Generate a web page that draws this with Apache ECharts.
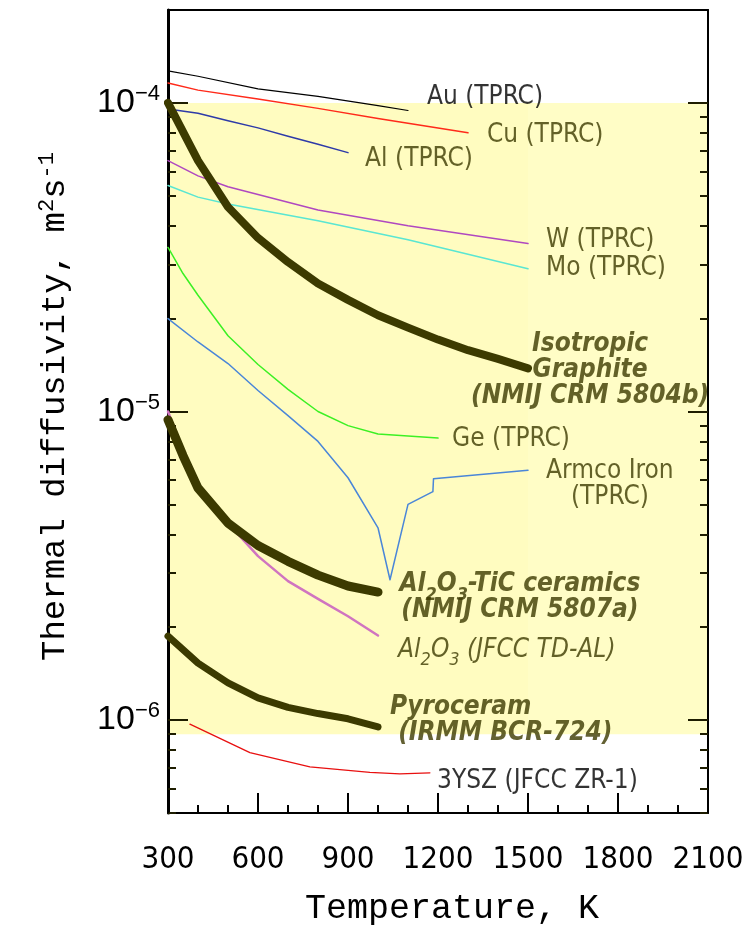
<!DOCTYPE html>
<html>
<head>
<meta charset="utf-8">
<script src="https://cdn.jsdelivr.net/npm/echarts@6/dist/echarts.min.js"></script>
<style>
html, body { margin: 0; padding: 0; background: #fff; }
#chart { width: 756px; height: 931px; }
</style>
</head>
<body>
<div id="chart"></div>
<script>
// [temperature K, thermal diffusivity m2/s]
const au = [[300, 1.27e-4], [400, 1.22e-4], [600, 1.11e-4], [800, 1.05e-4], [1000, 9.8e-5], [1100, 9.45e-5]];
const cu = [[300, 1.16e-4], [400, 1.10e-4], [600, 1.03e-4], [800, 9.6e-5], [1000, 8.9e-5], [1300, 8.0e-5]];
const al = [[300, 9.55e-5], [400, 9.25e-5], [500, 8.75e-5], [600, 8.3e-5], [700, 7.8e-5], [800, 7.35e-5], [900, 6.9e-5]];
const w = [[300, 6.5e-5], [400, 5.8e-5], [500, 5.35e-5], [600, 5.05e-5], [800, 4.5e-5], [1100, 4.0e-5], [1500, 3.5e-5]];
const mo = [[300, 5.4e-5], [400, 4.95e-5], [500, 4.7e-5], [800, 4.15e-5], [1100, 3.6e-5], [1500, 2.9e-5]];
const graphite = [[300, 1.0e-4], [400, 6.5e-5], [500, 4.6e-5], [600, 3.65e-5], [700, 3.05e-5], [800, 2.6e-5], [900, 2.3e-5],
  [1000, 2.05e-5], [1100, 1.87e-5], [1200, 1.71e-5], [1300, 1.58e-5], [1400, 1.48e-5], [1500, 1.38e-5]];
const ge = [[300, 3.4e-5], [350, 2.8e-5], [400, 2.38e-5], [500, 1.76e-5], [600, 1.42e-5], [700, 1.18e-5], [800, 1.0e-5],
  [900, 9.0e-6], [1000, 8.45e-6], [1200, 8.2e-6]];
const armco = [[300, 2.0e-5], [400, 1.68e-5], [500, 1.43e-5], [600, 1.17e-5], [700, 9.7e-6], [800, 8.0e-6], [900, 6.1e-6],
  [1000, 4.2e-6], [1040, 2.85e-6], [1100, 5.0e-6], [1183, 5.5e-6], [1185, 6.05e-6], [1500, 6.45e-6]];
const ticCeramic = [[300, 9.4e-6], [350, 7.2e-6], [400, 5.65e-6], [500, 4.35e-6], [600, 3.68e-6], [700, 3.27e-6],
  [800, 2.95e-6], [900, 2.72e-6], [1000, 2.6e-6]];
const alumina = [[300, 1.0e-5], [350, 7.4e-6], [400, 5.75e-6], [500, 4.35e-6], [600, 3.4e-6], [700, 2.82e-6], [800, 2.47e-6],
  [900, 2.17e-6], [1000, 1.88e-6]];
const pyroceram = [[300, 1.87e-6], [400, 1.53e-6], [500, 1.32e-6], [600, 1.18e-6], [700, 1.1e-6], [800, 1.05e-6],
  [900, 1.01e-6], [1000, 9.5e-7]];
const ysz = [[373, 9.7e-7], [573, 7.85e-7], [773, 7.05e-7], [973, 6.77e-7], [1073, 6.7e-7], [1173, 6.75e-7]];

// axis ticks
const yMajor = [1e-6, 1e-5, 1e-4];
const yMinor = [5e-7, 6e-7, 7e-7, 8e-7, 9e-7,
  2e-6, 3e-6, 4e-6, 5e-6, 6e-6, 7e-6, 8e-6, 9e-6,
  2e-5, 3e-5, 4e-5, 5e-5, 6e-5, 7e-5, 8e-5, 9e-5];

// labels next to the curves
const notes = [
  { text: 'Au (TPRC)', at: [1163, 1.045e-4], color: '#000' },
  { text: 'Cu (TPRC)', at: [1363, 7.88e-5] },
  { text: 'Al (TPRC)', at: [957, 6.55e-5] },
  { text: 'W (TPRC)', at: [1560, 3.59e-5] },
  { text: 'Mo (TPRC)', at: [1560, 2.92e-5] },
  { text: 'Isotropic\nGraphite\n(NMIJ CRM 5804b)', at: [1707, 1.36e-5], align: 'center', bold: true },
  { text: 'Ge (TPRC)', at: [1247, 8.13e-6] },
  { text: 'Armco Iron\n(TPRC)', at: [1773, 5.81e-6], align: 'center' },
  { text: 'Al{sub|2}O{sub|3}-TiC ceramics\n(NMIJ CRM 5807a)', at: [1473, 2.5e-6], align: 'center', bold: true },
  { text: 'Al{sub|2}O{sub|3} (JFCC TD-AL)', at: [1067, 1.69e-6], italic: true },
  { text: 'Pyroceram\n (IRMM BCR-724)', at: [1040, 1.0e-6], bold: true },
  { text: '3YSZ (JFCC ZR-1)', at: [1197, 6.35e-7], color: '#000' },
];

const olive = '#3c3a00';
const narrow = '"Liberation Sans Narrow", "DejaVu Sans Condensed", "Arial Narrow", sans-serif';
const mono = '"Liberation Mono", "DejaVu Sans Mono", monospace';

function curve(name, data, color, width) {
  return {
    name: name,
    type: 'line',
    data: data,
    symbol: 'none',
    silent: true,
    z: 3,
    lineStyle: { color: color, width: width, cap: 'round', join: 'round' },
  };
}

const yBase = {
  type: 'log',
  logBase: 10,
  min: 5e-7,
  max: 2e-4,
  z: 2,
  splitLine: { show: false },
};

const chart = echarts.init(document.getElementById('chart'));
chart.setOption({
  animation: false,
  backgroundColor: '#fff',
  grid: { left: 168, right: 48, top: 10, bottom: 116 },
  xAxis: [
    {
      type: 'value',
      position: 'bottom',
      min: 300,
      max: 2100,
      interval: 300,
      z: 2,
      axisLine: { show: true, lineStyle: { color: '#000', width: 2 } },
      axisTick: { show: true, inside: true, length: 20, lineStyle: { color: '#000', width: 2 } },
      minorTick: { show: true, splitNumber: 3, length: 8, lineStyle: { color: '#000', width: 2 } },
      splitLine: { show: false },
      axisLabel: {
        color: '#000',
        fontFamily: narrow,
        fontSize: 31,
        margin: 31,
        formatter: function (v) { return String(v); },
      },
      name: 'Temperature, K',
      nameLocation: 'middle',
      nameGap: 78,
      nameTextStyle: { color: '#000', fontFamily: mono, fontSize: 35, padding: [0, 0, 0, 28] },
    },
    {
      type: 'value',
      position: 'top',
      min: 300,
      max: 2100,
      z: 2,
      axisLine: { show: true, lineStyle: { color: '#000', width: 2 } },
      axisTick: { show: false },
      axisLabel: { show: false },
      splitLine: { show: false },
    },
  ],
  yAxis: [
    Object.assign({}, yBase, {
      position: 'left',
      axisLine: { show: true, lineStyle: { color: '#000', width: 3 } },
      axisTick: { show: true, inside: true, length: 20, customValues: yMajor, lineStyle: { color: '#1e1d00', width: 2 } },
      axisLabel: {
        customValues: yMajor,
        margin: 8,
        formatter: function (v) {
          return '{b|10}{s|\u2212' + (-Math.round(Math.log10(v))) + '}';
        },
        rich: {
          b: { fontFamily: '"Liberation Sans", Arial, sans-serif', fontSize: 34, color: '#000' },
          s: { fontFamily: '"Liberation Sans", Arial, sans-serif', fontSize: 22, color: '#000', padding: [0, 0, 18, 0] },
        },
      },
      name: 'Thermal diffusivity, m{sup|2}s{sup|-1}',
      nameLocation: 'middle',
      nameGap: 94,
      nameTextStyle: {
        color: '#000',
        fontFamily: mono,
        fontSize: 34,
        padding: [0, 0, 0, 10],
        rich: { sup: { fontFamily: mono, fontSize: 22, color: '#000', padding: [0, 0, 16, 0] } },
      },
    }),
    Object.assign({}, yBase, {
      position: 'left',
      axisLine: { show: false },
      axisTick: { show: true, inside: true, length: 8, customValues: yMinor, lineStyle: { color: '#1e1d00', width: 2 } },
      axisLabel: { show: false },
    }),
    Object.assign({}, yBase, {
      position: 'right',
      axisLine: { show: true, lineStyle: { color: '#000', width: 2 } },
      axisTick: { show: true, inside: true, length: 20, customValues: yMajor, lineStyle: { color: '#1e1d00', width: 2 } },
      axisLabel: { show: false },
    }),
    Object.assign({}, yBase, {
      position: 'right',
      axisLine: { show: false },
      axisTick: { show: true, inside: true, length: 8, customValues: yMinor, lineStyle: { color: '#1e1d00', width: 2 } },
      axisLabel: { show: false },
    }),
  ],
  series: [
    {
      // yellow band
      type: 'line',
      data: [],
      silent: true,
      markArea: {
        silent: true,
        z: 1,
        data: [
          [{ xAxis: 300, yAxis: 9e-7, itemStyle: { color: '#fffcc0' } }, { xAxis: 1500, yAxis: 1e-4 }],
          [{ xAxis: 1500, yAxis: 9e-7, itemStyle: { color: '#fffdc6' } }, { xAxis: 2100, yAxis: 1e-4 }],
        ],
      },
    },
    curve('Au (TPRC)', au, '#000000', 1.2),
    curve('Cu (TPRC)', cu, '#ff2a1a', 1.5),
    curve('Al (TPRC)', al, '#2e3aa8', 1.5),
    curve('W (TPRC)', w, '#b048c0', 1.5),
    curve('Mo (TPRC)', mo, '#5ae6d2', 1.5),
    curve('Ge (TPRC)', ge, '#3cf024', 1.5),
    curve('Armco Iron (TPRC)', armco, '#4a86d8', 1.5),
    curve('Al2O3 (JFCC TD-AL)', alumina, '#d074c0', 2.5),
    curve('3YSZ (JFCC ZR-1)', ysz, '#e81010', 1.3),
    curve('Isotropic Graphite (NMIJ CRM 5804b)', graphite, olive, 8),
    curve('Al2O3-TiC ceramics (NMIJ CRM 5807a)', ticCeramic, olive, 9),
    curve('Pyroceram (IRMM BCR-724)', pyroceram, olive, 7),
    {
      type: 'scatter',
      symbolSize: 0,
      silent: true,
      z: 4,
      data: notes.map(function (n) {
        return {
          value: n.at,
          label: {
            show: true,
            position: 'inside',
            align: n.align || 'left',
            verticalAlign: 'middle',
            formatter: n.text,
            color: n.color || olive,
            fontFamily: narrow,
            fontSize: 26,
            lineHeight: 26,
            fontWeight: n.bold ? 'bold' : 'normal',
            fontStyle: (n.bold || n.italic) ? 'italic' : 'normal',
            rich: {
              sub: { fontSize: 18, padding: [22, 0, 0, 0] },
            },
          },
        };
      }),
    },
  ],
});
</script>
</body>
</html>
